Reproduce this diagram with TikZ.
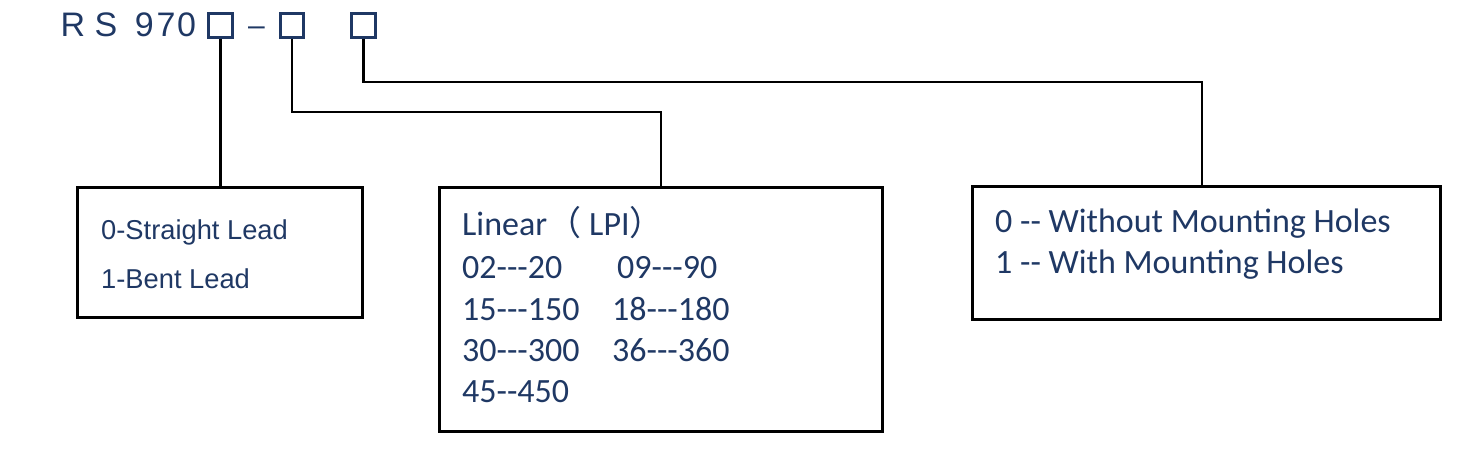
\documentclass[tikz,border=0pt]{standalone}
\usepackage{fontspec}
\setmainfont{Liberation Sans}
\newfontfamily\calfont{Carlito}
\newfontfamily\cjkfont{Noto Sans CJK SC}
\definecolor{navy}{RGB}{31,56,100}
\begin{document}
\begin{tikzpicture}[x=1pt,y=-1pt,
  sq/.style={draw=navy,line width=2.7pt,minimum width=23.5pt,minimum height=23.5pt,inner sep=0pt},
  boxx/.style={draw=black,line width=3pt,inner sep=0pt},
  conn/.style={draw=black,line width=2.4pt},
  tx/.style={anchor=base west,inner sep=0pt,text=navy},
  ariall/.style={font=\fontsize{27.3}{32}\selectfont},
  calm/.style={font=\calfont\fontsize{34}{40}\selectfont},
  calr/.style={font=\calfont\fontsize{34}{40}\selectfont}]
\useasboundingbox (0,0) rectangle (1464,473);
% title
\node[tx,font=\fontsize{34}{40}\selectfont] (title) at (60.5,37) {R S\hspace{8pt} 9\kern3pt 7\kern1.5pt 0};
\node[sq] (s1) at (220.5,25.5) {};
\node[tx,font=\fontsize{30}{36}\selectfont,anchor=center] (dash) at (256.5,31) {–};
\node[sq] (s2) at (292,25.5) {};
\node[sq] (s3) at (363.5,25.5) {};
% boxes
\node[boxx,minimum width=285pt,minimum height=130pt] (b1) at (219.5,252.5) {};
\node[boxx,minimum width=443pt,minimum height=243pt] (b2) at (660.5,309.5) {};
\node[boxx,minimum width=468pt,minimum height=132pt] (b3) at (1206,253) {};
% connectors
\coordinate (k2) at (661,112);
\coordinate (k3) at (1202,82);
\draw[conn] (s1.south) -- (s1.south |- b1.north);
\draw[conn] (s2.south) |- (k2) -- (k2 |- b2.north);
\draw[conn] (s3.south) |- (k3) -- (k3 |- b3.north);
% box 1 text
\node[tx,ariall] (l11) at (101,240) {0-Straight Lead};
\node[tx,ariall] (l12) at (101,288) {1-Bent Lead};
% box 2 text
\node[tx,calm] (l21) at (462,235) {Linear{\cjkfont （}\hspace{8pt}LPI{\cjkfont ）}};
\node[tx,calm] (l22) at (462,278) {02---20};
\node[tx,calm] (l23) at (617,278) {09---90};
\node[tx,calm] (l24) at (462,320) {15---150};
\node[tx,calm] (l25) at (612,320) {18---180};
\node[tx,calm] (l26) at (462,361) {30---300};
\node[tx,calm] (l27) at (612,361) {36---360};
\node[tx,calm] (l28) at (462,402) {45--450};
% box 3 text
\node[tx,calr] (l31) at (995,233) {0 -- Without Mounting Holes};
\node[tx,calr] (l32) at (995,273) {1 -- With Mounting Holes};
\end{tikzpicture}
\end{document}
